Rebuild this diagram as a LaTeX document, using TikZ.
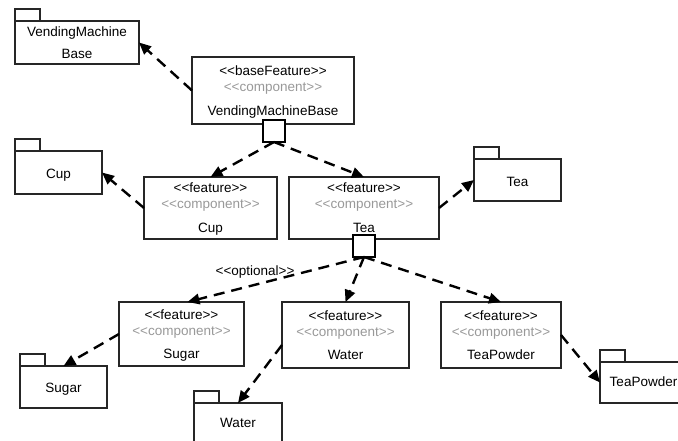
\documentclass[tikz,border=0pt]{standalone}
\usepackage{fontspec}
\setmainfont{Liberation Sans}
\usetikzlibrary{arrows.meta,calc}
\newcommand\umlst[1]{<\kern0pt<#1>\kern0pt>}
\begin{document}
\begin{tikzpicture}[x=1pt,y=-1pt,
  every node/.style={font=\fontsize{13.5}{16}\selectfont, inner sep=0pt, outer sep=0pt},
  fbox/.style={draw=black!85, line width=1.1pt, fill=white},
  pbox/.style={draw=black!85, line width=1.1pt, fill=white},
  ptab/.style={draw=black!85, line width=1.1pt},
  sq/.style={draw=black, line width=2.8pt, minimum size=22pt, fill=white},
  txt/.style={anchor=base, text=black},
  gtxt/.style={anchor=base, text=black!40},
  dep/.style={draw=black, line width=2.4pt, dash pattern=on 11pt off 7pt,
    -{Triangle[length=12pt,width=10.5pt]}}]
\path[use as bounding box] (0,0) rectangle (678,441);
\clip (0,0) rectangle (678,441);

% feature boxes
\node[fbox, minimum width=162pt, minimum height=67pt] (vmb) at (273,90.5) {};
\node[fbox, minimum width=133pt, minimum height=62pt] (cupf) at (210.5,208) {};
\node[fbox, minimum width=150pt, minimum height=62pt] (teaf) at (364,208) {};
\node[fbox, minimum width=125pt, minimum height=64pt] (sugarf) at (181.5,334) {};
\node[fbox, minimum width=127pt, minimum height=66pt] (waterf) at (345.5,335) {};
\node[fbox, minimum width=120pt, minimum height=66pt] (tpf) at (501,335) {};

\node[txt] (vmb-a) at ($(vmb.center)+(0,-15)$) {\umlst{baseFeature}};
\node[gtxt] (vmb-b) at ($(vmb.center)+(0,1)$) {\umlst{component}};
\node[txt] (vmb-c) at ($(vmb.center)+(0,25)$) {VendingMachineBase};

\foreach \f/\n in {cupf/Cup, teaf/Tea, sugarf/Sugar, waterf/Water, tpf/TeaPowder}{
  \node[txt] (\f-a) at ($(\f.center)+(0,-15)$) {\umlst{feature}};
  \node[gtxt] (\f-b) at ($(\f.center)+(0,1)$) {\umlst{component}};
  \node[txt] (\f-c) at ($(\f.center)+(0,24.5)$) {\n};
}

% packages
\node[pbox, minimum width=124pt, minimum height=43pt] (vmbp) at (77,42.5) {};
\node[pbox, minimum width=87pt, minimum height=43pt] (cupp) at (58.5,172.5) {};
\node[pbox, minimum width=87pt, minimum height=42pt] (teap) at (517.5,180) {};
\node[pbox, minimum width=87pt, minimum height=42pt] (sugarp) at (63.5,387) {};
\node[pbox, minimum width=88pt, minimum height=43pt] (waterp) at (238,424.5) {};
\node[pbox, minimum width=87pt, minimum height=41pt] (tpp) at (643.5,382.5) {};
\foreach \p in {vmbp,cupp,teap,sugarp,waterp,tpp}{
  \draw[ptab] (\p.north west) rectangle ++(25,-12);
}
\node[txt] (vmbp-a) at ($(vmbp.center)+(0,-5.5)$) {VendingMachine};
\node[txt] (vmbp-b) at ($(vmbp.center)+(0,16.5)$) {Base};
\node[txt] (cupp-a) at ($(cupp.center)+(0,6)$) {Cup};
\node[txt] (teap-a) at ($(teap.center)+(0,6)$) {Tea};
\node[txt] (sugarp-a) at ($(sugarp.center)+(0,5.5)$) {Sugar};
\node[txt] (waterp-a) at ($(waterp.center)+(0,2.5)$) {Water};
\node[txt] (tpp-a) at ($(tpp.center)+(0,4)$) {TeaPowder};

% decomposition squares
\node[sq] (vmbsq) at (274,131) {};
\node[sq] (teasq) at (364,246) {};

% dependencies
\draw[dep] (vmb.west) -- (vmbp.east);
\draw[dep] (vmbsq.south) -- (cupf.north);
\draw[dep] (vmbsq.south) -- (teaf.north);
\draw[dep] (cupf.west) -- (cupp.east);
\draw[dep] (teaf.east) -- (teap.west);
\draw[dep] (teasq.south) -- node[pos=0.6, above=6pt, xshift=-3pt] (opt) {\umlst{optional}} ($(sugarf.north)+(6,0)$);
\draw[dep] (teasq.south) -- (waterf.north);
\draw[dep] (teasq.south) -- (tpf.north);
\draw[dep] (sugarf.west) -- (sugarp.north);
\draw[dep] ($(waterf.west)+(0,10)$) -- (waterp.north);
\draw[dep] (tpf.east) -- (tpp.west);
\end{tikzpicture}
\end{document}
